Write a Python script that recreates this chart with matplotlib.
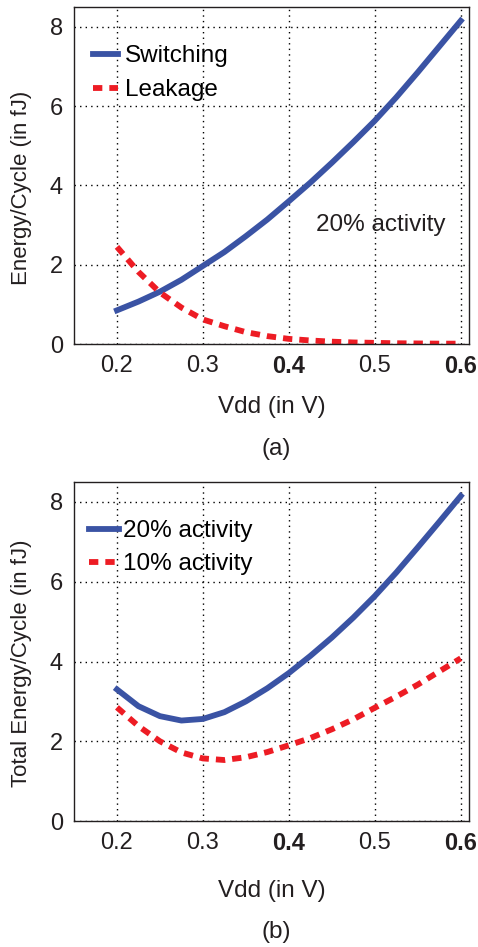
import matplotlib.pyplot as plt
from matplotlib.ticker import FixedLocator

plt.rcParams["font.family"] = ["Liberation Sans", "DejaVu Sans"]

# Vdd sample points (V)
vdd = [0.200, 0.225, 0.250, 0.275, 0.300, 0.325, 0.350, 0.375, 0.400,
       0.425, 0.450, 0.475, 0.500, 0.525, 0.550, 0.575, 0.600]

# Panel (a): energy per cycle at 20% activity (fJ)
switching = [0.85, 1.07, 1.32, 1.62, 1.97, 2.32, 2.72, 3.14, 3.60,
             4.07, 4.57, 5.09, 5.63, 6.22, 6.85, 7.50, 8.15]
leakage = [2.45, 1.82, 1.30, 0.92, 0.62, 0.45, 0.30, 0.20, 0.13,
           0.09, 0.06, 0.04, 0.03, 0.02, 0.015, 0.01, 0.01]

# Panel (b): total energy per cycle (fJ)
total_20 = [3.30, 2.88, 2.63, 2.52, 2.56, 2.73, 3.00, 3.33, 3.71,
            4.14, 4.60, 5.10, 5.64, 6.23, 6.86, 7.50, 8.15]
total_10 = [2.85, 2.38, 2.00, 1.72, 1.57, 1.53, 1.60, 1.73, 1.90,
            2.08, 2.30, 2.55, 2.84, 3.12, 3.42, 3.75, 4.08]

x_ticks = [0.2, 0.3, 0.4, 0.5, 0.6]
x_labels = ["0.2", "0.3", "0.4", "0.5", "0.6"]
bold_ticks = ["0.4", "0.6"]
y_ticks = [0, 2, 4, 6, 8]

BLUE = "#3a53a4"
RED = "#ed1c24"
INK = "#231f20"
TICK_FS = 17
XLABEL_FS = 17.5
YLABEL_FS = 16
LEGEND_FS = 17.5
LW = 4.2
DASH = (0, (1.6, 1.2))

fig = plt.figure(figsize=(4.78, 9.47), dpi=100)
ax_a = fig.add_axes([0.1548, 0.6367, 0.827, 0.356])
ax_b = fig.add_axes([0.1548, 0.133, 0.827, 0.358])


def style_axes(ax, ylabel, xpad):
    ax.set_xlim(0.15, 0.61)
    ax.set_ylim(0, 8.5)
    ax.xaxis.set_major_locator(FixedLocator(x_ticks))
    ax.set_xticklabels(x_labels)
    ax.yaxis.set_major_locator(FixedLocator(y_ticks))
    ax.tick_params(length=0, labelsize=TICK_FS, pad=8, colors=INK)
    for lbl in ax.get_xticklabels():
        if lbl.get_text() in bold_ticks:
            lbl.set_fontweight("bold")
    ax.grid(True, color="black", linestyle=(0, (1, 3)), linewidth=1.0)
    for sp in ax.spines.values():
        sp.set_color(INK)
        sp.set_linewidth(1.0)
    ax.set_xlabel("Vdd (in V)", fontsize=XLABEL_FS, labelpad=xpad, color=INK)
    ax.set_ylabel(ylabel, fontsize=YLABEL_FS, color=INK)
    ax.yaxis.set_label_coords(-0.105, 0.464)


ax_a.plot(vdd, switching, color=BLUE, lw=LW, label="Switching")
ax_a.plot(vdd, leakage, color=RED, lw=LW, linestyle=DASH, label="Leakage")
ax_a.text(0.432, 3.0, "20% activity", fontsize=XLABEL_FS, va="center", ha="left",
          color=INK)
style_axes(ax_a, "Energy/Cycle (in fJ)", 13)
ax_a.legend(loc="upper left", bbox_to_anchor=(0.01, 0.93), frameon=False,
            fontsize=LEGEND_FS, handlelength=1.05, handletextpad=0.3,
            labelspacing=0.5, borderaxespad=0.2)

ax_b.plot(vdd, total_20, color=BLUE, lw=LW, label="20% activity")
ax_b.plot(vdd, total_10, color=RED, lw=LW, linestyle=DASH, label="10% activity")
style_axes(ax_b, "Total Energy/Cycle (in fJ)", 18)
ax_b.legend(loc="upper left", bbox_to_anchor=(0.0, 0.93), frameon=False,
            fontsize=LEGEND_FS, handlelength=1.25, handletextpad=0.15,
            labelspacing=0.45, borderaxespad=0.2)

fig.text(0.578, 1 - 449 / 947, "(a)", fontsize=XLABEL_FS, ha="center", va="center",
         color=INK)
fig.text(0.578, 1 - 932 / 947, "(b)", fontsize=XLABEL_FS, ha="center", va="center",
         color=INK)

fig.savefig("out.png", dpi=100)
